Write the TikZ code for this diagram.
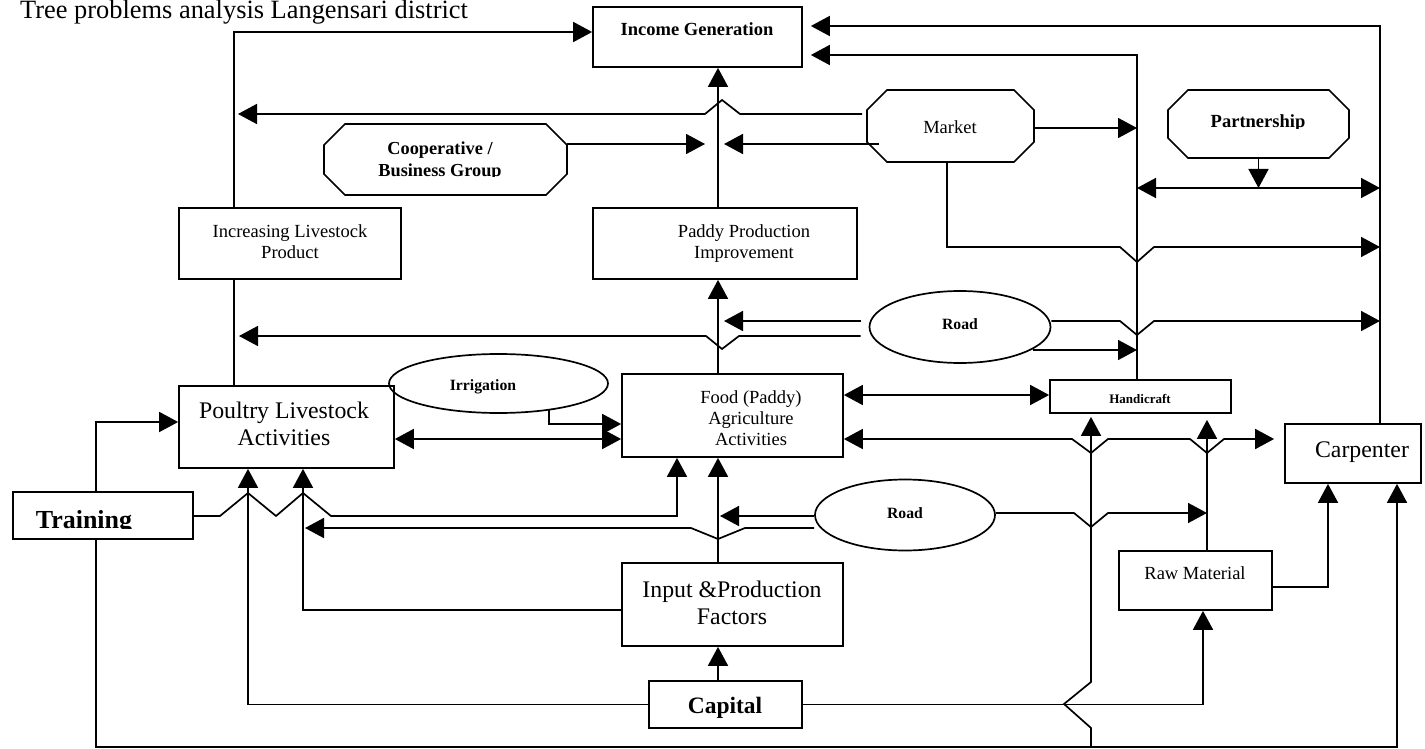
\documentclass[tikz,border=0pt]{standalone}
\usepackage{fontspec}
\setmainfont{Liberation Serif}
\usetikzlibrary{arrows.meta,shapes.geometric,calc}
\newcommand{\myfs}[1]{\fontsize{#1}{#1}\selectfont}
\newcommand{\octo}[2]{\draw[ln] ($(#1.north west)+(#2,0)$) -- ($(#1.north east)+(-#2,0)$) -- ($(#1.north east)+(0,#2)$) -- ($(#1.south east)+(0,-#2)$) -- ($(#1.south east)+(-#2,0)$) -- ($(#1.south west)+(#2,0)$) -- ($(#1.south west)+(0,-#2)$) -- ($(#1.north west)+(0,#2)$) -- cycle;}
\tikzset{
  ln/.style={line width=1.7pt},
  arr/.style={ln, -{Triangle[length=19pt,width=20pt]}},
  darr/.style={ln, {Triangle[length=19pt,width=20pt]}-{Triangle[length=19pt,width=20pt]}},
  box/.style={draw, line width=1.7pt, rectangle, inner sep=0pt},
  octbox/.style={rectangle, inner sep=0pt, outer sep=0pt},
  ell/.style={draw, line width=1.7pt, ellipse, inner sep=0pt},
  txt/.style={inner sep=0pt, anchor=base, align=center},
  tn/.style={txt, font=\myfs{18.5}},
  tb/.style={txt, font=\bfseries\myfs{18.5}},
  tbig/.style={txt, font=\myfs{23.8}},
}
\begin{document}
\begin{tikzpicture}[x=1pt, y=-1pt]
\useasboundingbox (0,0) rectangle (1425,749);
% title
\node[txt, font=\myfs{26.4}, anchor=base west] (title) at (20,19) {Tree problems analysis Langensari district};
% boxes
\node[box, minimum width=209pt, minimum height=60pt] (inc) at (697.5,37) {};
\node[tb] (inct) at (697,36) {Income Generation};
\node[octbox, minimum width=167pt, minimum height=72pt] (mkt) at (950.5,126) {};
\octo{mkt}{20}
\node[tn] (mktt) at (950,134) {Market};
\node[octbox, minimum width=243pt, minimum height=71pt] (coop) at (445.5,159.5) {};
\octo{coop}{21}
\begin{scope}
  \clip (300,100) rectangle (600,177);
  \node[tb, font=\bfseries\myfs{18.3}] (coopt1) at (440,155) {Cooperative /};
  \node[tb, font=\bfseries\myfs{18.3}] (coopt2) at (440,176) {Business Group};
\end{scope}
\node[octbox, minimum width=181pt, minimum height=68pt] (part) at (1258.5,124) {};
\octo{part}{20}
\begin{scope}
  \clip (1170,95) rectangle (1345,128.5);
  \node[tb] (partt) at (1258,128) {Partnership};
\end{scope}
\node[box, minimum width=222pt, minimum height=71pt] (incl) at (290,243.5) {};
\node[tn] (inclt1) at (290,237) {Increasing Livestock};
\node[tn] (inclt2) at (290,258) {Product};
\node[box, minimum width=264pt, minimum height=71pt] (ppi) at (725,243.5) {};
\node[tn] (ppit1) at (744,237) {Paddy Production};
\node[tn] (ppit2) at (744,258) {Improvement};
\node[ell, minimum width=181pt, minimum height=72pt] (road1) at (960,327) {};
\node[txt, font=\bfseries\myfs{15.7}] (road1t) at (960,329) {Road};
\node[box, minimum width=215pt, minimum height=82pt] (poul) at (286.5,427) {};
\node[tbig] (poult1) at (284,418) {Poultry Livestock};
\node[tbig] (poult2) at (284,445) {Activities};
\node[ell, minimum width=219pt, minimum height=59pt] (irr) at (498.5,383.5) {};
\node[txt, font=\bfseries\myfs{15.7}] (irrt) at (483,390) {Irrigation};
\node[box, minimum width=221pt, minimum height=83pt] (food) at (732.5,415.5) {};
\node[tn] (foodt1) at (751,403) {Food (Paddy)};
\node[tn] (foodt2) at (751,424) {Agriculture};
\node[tn] (foodt3) at (751,445) {Activities};
\node[box, minimum width=181pt, minimum height=33pt] (hand) at (1140.5,396.5) {};
\node[txt, font=\bfseries\myfs{13}] (handt) at (1140,403) {Handicraft};
\node[box, minimum width=136pt, minimum height=59pt] (carp) at (1353,453.5) {};
\node[tbig] (carpt) at (1362,457) {Carpenter};
\node[box, minimum width=180pt, minimum height=47pt] (train) at (103,515.5) {};
\begin{scope}
  \clip (20,495) rectangle (190,528.5);
  \node[txt, font=\bfseries\myfs{26}] (traint) at (84,528) {Training};
\end{scope}
\node[ell, minimum width=180pt, minimum height=71pt] (road2) at (905,515) {};
\node[txt, font=\bfseries\myfs{15.7}] (road2t) at (905,518) {Road};
\node[box, minimum width=153pt, minimum height=59pt] (raw) at (1195.5,580.5) {};
\node[tn] (rawt) at (1195,579) {Raw Material};
\node[box, minimum width=221pt, minimum height=83pt] (inp) at (732.5,604.5) {};
\node[tbig] (inpt1) at (732,597) {Input \&Production};
\node[tbig] (inpt2) at (732,624) {Factors};
\node[box, minimum width=153pt, minimum height=47pt] (cap) at (725.5,704.5) {};
\node[txt, font=\bfseries\myfs{23.5}] (capt) at (725,713) {Capital};
% columns and rows
\coordinate (cA) at (96,0);
\coordinate (cB) at (234,0);
\coordinate (cC) at (248,0);
\coordinate (cD) at (303,0);
\coordinate (cE) at (677,0);
\coordinate (cF) at (718,0);
\coordinate (cG) at (947,0);
\coordinate (cH) at (1091,0);
\coordinate (cI) at (1137,0);
\coordinate (cJ) at (1207,0);
\coordinate (cJb) at (1203,0);
\coordinate (cK) at (1328,0);
\coordinate (cL) at (1380,0);
\coordinate (cM) at (1397,0);
\coordinate (cN) at (549,0);
\coordinate (r26) at (0,26);
\coordinate (r32) at (0,32);
\coordinate (r55) at (0,55);
\coordinate (r114) at (0,114);
\coordinate (r128) at (0,128);
\coordinate (r144) at (0,144);
\coordinate (r188) at (0,188);
\coordinate (r247) at (0,247);
\coordinate (r321) at (0,321);
\coordinate (r336) at (0,336);
\coordinate (r350) at (0,350);
\coordinate (r395) at (0,395);
\coordinate (r422) at (0,422);
\coordinate (r424) at (0,424);
\coordinate (r439) at (0,439);
\coordinate (r513) at (0,513);
\coordinate (r516) at (0,516);
\coordinate (r528) at (0,528);
\coordinate (r587) at (0,587);
\coordinate (r610) at (0,610);
\coordinate (r747) at (0,747);
% connectors
\draw[arr] (cB |- incl.north) -- (cB |- r32) -- (inc.west |- r32);
\draw[arr] (ppi.north -| cF) -- (inc.south -| cF);
\draw[arr, shorten >=4pt] ($(mkt.west |- r114)+(-5,0)$) -- (740,114) -- (722,100) -- (705,114) -- (cB |- r114);
\draw[arr, shorten >=6pt] ($(mkt.west |- r144)+(12,0)$) -- (cF |- r144);
\draw[arr, shorten >=13pt] (coop.east |- r144) -- (cF |- r144);
\draw[arr] (mkt.east |- r128) -- (cI |- r128);
\draw[arr] (mkt.south -| cG) -- (cG |- r247) -- (1120,247) -- (1137,262) -- (1154,247) -- (cL |- r247);
\draw[arr] (part.south) -- (part.south |- r188);
\draw[darr] (cI |- r188) -- (cL |- r188);
\draw[arr, shorten >=8pt] (carp.north -| cL) -- (cL |- r26) -- (inc.east |- r26);
\draw[arr, shorten >=8pt] (hand.north -| cI) -- (cI |- r55) -- (inc.east |- r55);
\draw[arr, shorten >=6pt] ($(road1.west |- r321)+(-8,0)$) -- (cF |- r321);
\draw[arr, shorten >=5pt] ($(road1.west |- r336)+(-8,0)$) -- (739,336) -- (722,349) -- (706,336) -- (cB |- r336);
\draw[arr] (road1.east |- r321) -- (1120,321) -- (1137,335) -- (1154,321) -- (cL |- r321);
\draw[arr] ($(road1.east |- r350)+(-18,0)$) -- (cI |- r350);
\draw[arr] (food.north -| cF) -- (ppi.south -| cF);
\draw[ln] (incl.south -| cB) -- (poul.north -| cB);
\draw[arr] ($(irr.south -| cN)+(0,-4)$) -- (cN |- r424) -- (food.west |- r424);
\draw[darr] (poul.east |- r439) -- (food.west |- r439);
\draw[darr] (food.east |- r395) -- (hand.west |- r395);
\draw[darr, shorten >=10pt] (food.east |- r439) -- (1072,439) -- (1091,453) -- (1108,439) -- (1190,439) -- (1207,453) -- (1224,439) -- (carp.west |- r439);
\draw[arr] (train.north -| cA) -- (cA |- r422) -- (poul.west |- r422);
\draw[arr] (train.east |- r516) -- (220,516) -- (248,493) -- (276,516) -- (303,493) -- (331,516) -- (cE |- r516) -- (food.south -| cE);
\draw[arr] (cap.west) -- (cap.west -| cC) -- (poul.south -| cC);
\draw[arr] (inp.west |- r610) -- (cD |- r610) -- (poul.south -| cD);
\draw[arr] (cap.north -| cF) -- (inp.south -| cF);
\draw[arr] (inp.north -| cF) -- (food.south -| cF);
\draw[arr, shorten >=2pt] (road2.west |- r516) -- (cF |- r516);
\draw[arr, shorten >=2pt] (road2.west |- r528) -- (745,528) -- (718,539) -- (691,528) -- (cD |- r528);
\draw[arr] (road2.east |- r513) -- (1074,513) -- (1091,527) -- (1108,513) -- (cJ |- r513);
\draw[arr, shorten >=6pt] (raw.north -| cJ) -- (hand.south -| cJ);
\draw[arr] (raw.east |- r587) -- (cK |- r587) -- (carp.south -| cK);
\draw[arr] (cap.east) -- (cJb |- cap.east) -- (raw.south -| cJb);
\draw[arr] (train.south -| cA) -- (cA |- r747) -- (cM |- r747) -- (carp.south -| cM);
\draw[arr, shorten >=3pt] (cH |- r747) -- (1091,728) -- (1064,704) -- (1091,682) -- (hand.south -| cH);
\end{tikzpicture}
\end{document}
